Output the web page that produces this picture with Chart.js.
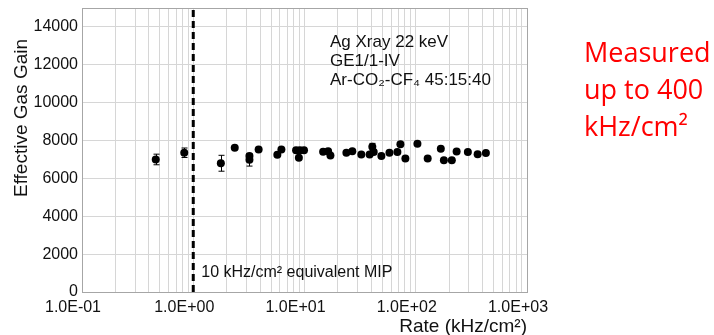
<!DOCTYPE html>
<html>
<head>
<meta charset="utf-8">
<script src="https://cdn.jsdelivr.net/npm/chart.js@4"></script>
<style>
  body { margin: 0; background: #fff; }
  #wrap { position: relative; width: 714px; height: 335px; }
  #note {
    position: absolute; left: 584px; top: 33px;
    font-family: "Open Sans", Lato, sans-serif; font-size: 27px; line-height: 37px;
    color: #ff0000;
  }
</style>
</head>
<body>
<div id="wrap">
  <canvas id="myCanvas" width="714" height="335"></canvas>
  <div id="note">Measured<br>up to 400<br>kHz/cm²</div>
</div>
<script>
// rate in kHz/cm2, effective gain and its error (0 = no bar drawn)
const rates = [0.46, 0.83, 1.77, 2.36, 3.2, 3.2, 3.87, 5.7, 6.2, 8.4, 8.9, 9.1, 9.9,
  14.7, 16.3, 17.1, 23.8, 26.9, 32.4, 38.5, 40.7, 41.9, 49.1, 58, 68.4, 72.8, 80.7,
  103.5, 128, 168, 179, 211, 233, 294, 360, 427];
const gains = [7000, 7355, 6800, 7620, 7180, 6980, 7530, 7250, 7530, 7490, 7090, 7490, 7490,
  7410, 7440, 7210, 7355, 7440, 7265, 7265, 7670, 7390, 7180, 7355, 7390, 7800, 7050,
  7830, 7050, 7560, 6960, 6960, 7420, 7390, 7280, 7340];
const gainErrors = [280, 250, 420, 0, 0, 330, 0, 0, 0, 0, 0, 0, 0,
  0, 0, 0, 0, 0, 0, 0, 180, 0, 0, 0, 0, 0, 0,
  0, 0, 0, 0, 0, 0, 0, 0, 0];

const mipRate = 1.0;
const decades = [0.1, 1, 10, 100, 1000];
const decadeLabels = ['1.0E-01', '1.0E+00', '1.0E+01', '1.0E+02', '1.0E+03'];
const yTicks = [0, 2000, 4000, 6000, 8000, 10000, 12000, 14000];
const yMax = 15000;
const yTitle = 'Effective Gas Gain';
const infoLines = ['Ag Xray 22 keV', 'GE1/1-IV', 'Ar-CO₂-CF₄ 45:15:40'];
const mipLabel = '10 kHz/cm² equivalent MIP';

const FONT = '"Liberation Sans", Arial, sans-serif';

// log grid: 1..9 in each decade
const xGrid = [];
decades.slice(0, -1).forEach(d => { for (let k = 1; k < 10; k++) xGrid.push(+(d * k).toPrecision(3)); });
xGrid.push(decades[decades.length - 1]);

const errorBars = {
  id: 'errorBars',
  beforeDatasetsDraw(chart) {
    const {ctx, scales: {x, y}} = chart;
    ctx.save();
    ctx.strokeStyle = '#000';
    ctx.lineWidth = 1;
    rates.forEach((r, i) => {
      const e = gainErrors[i];
      if (!e) return;
      const px = Math.round(x.getPixelForValue(r)) + 0.5;
      const top = y.getPixelForValue(gains[i] + e);
      const bot = y.getPixelForValue(gains[i] - e);
      ctx.beginPath();
      ctx.moveTo(px, top); ctx.lineTo(px, bot);
      ctx.moveTo(px - 3, top); ctx.lineTo(px + 3, top);
      ctx.moveTo(px - 3, bot); ctx.lineTo(px + 3, bot);
      ctx.stroke();
    });
    ctx.restore();
  }
};

const frameAndText = {
  id: 'frameAndText',
  afterDraw(chart) {
    const {ctx, chartArea: a, scales: {x}} = chart;
    ctx.save();
    ctx.strokeStyle = '#a6a6a6';
    ctx.lineWidth = 1;
    ctx.strokeRect(a.left + 0.5, a.top + 0.5, a.right - a.left, a.bottom - a.top);

    ctx.fillStyle = '#111';
    ctx.font = '17px ' + FONT;
    ctx.textBaseline = 'middle';
    infoLines.forEach((t, i) => ctx.fillText(t, a.left + 248, a.top + 34 + i * 19));
    ctx.font = '16px ' + FONT;
    ctx.fillText(mipLabel, x.getPixelForValue(mipRate) + 8, a.bottom - 19);

    // y title, sitting a little above the middle of the plot
    ctx.font = '19px ' + FONT;
    ctx.translate(22, a.top + 110);
    ctx.rotate(-Math.PI / 2);
    ctx.textAlign = 'center';
    ctx.fillText(yTitle, 0, 0);
    ctx.restore();
  }
};

const ctx = document.getElementById('myCanvas').getContext('2d');
new Chart(ctx, {
  type: 'scatter',
  data: {
    datasets: [
      {
        label: 'gain',
        data: rates.map((r, i) => ({x: r, y: gains[i]})),
        backgroundColor: '#000',
        borderWidth: 0,
        pointRadius: 4
      },
      {
        type: 'line',
        label: 'MIP',
        data: [{x: mipRate, y: 0}, {x: mipRate, y: yMax}],
        borderColor: '#000',
        borderWidth: 3,
        borderDash: [7, 4],
        pointRadius: 0
      }
    ]
  },
  options: {
    responsive: false,
    animation: false,
    layout: {padding: {left: 0, right: 187, top: 8, bottom: 0}},
    plugins: {legend: {display: false}, tooltip: {enabled: false}},
    scales: {
      x: {
        type: 'logarithmic',
        min: decades[0],
        max: decades[decades.length - 1],
        afterBuildTicks: s => { s.ticks = xGrid.map(v => ({value: v})); },
        afterFit: s => { s.height = 43; },
        grid: {color: '#d6d6d6', drawTicks: false},
        border: {color: '#a6a6a6'},
        ticks: {
          autoSkip: false, maxRotation: 0, padding: 6, labelOffset: -9,
          color: '#111', font: {family: FONT, size: 16},
          callback: v => {
            const k = decades.findIndex(d => Math.abs(d - v) < 1e-9);
            return k >= 0 ? decadeLabels[k] : '';
          }
        },
        title: {
          display: true, text: 'Rate (kHz/cm²)', align: 'end',
          color: '#111', font: {family: FONT, size: 19, lineHeight: 1},
          padding: {top: 0, bottom: -1}
        }
      },
      y: {
        min: 0,
        max: yMax,
        afterBuildTicks: s => { s.ticks = yTicks.concat([yMax]).map(v => ({value: v})); },
        afterFit: s => { s.width = 82; s.paddingTop = 0; s.paddingBottom = 0; },
        grid: {color: '#d6d6d6', drawTicks: false},
        border: {color: '#a6a6a6'},
        ticks: {
          padding: 4, color: '#111', font: {family: FONT, size: 16},
          callback: v => (yTicks.includes(v) ? String(v) : '')
        }
      }
    }
  },
  plugins: [errorBars, frameAndText]
});
</script>
</body>
</html>
